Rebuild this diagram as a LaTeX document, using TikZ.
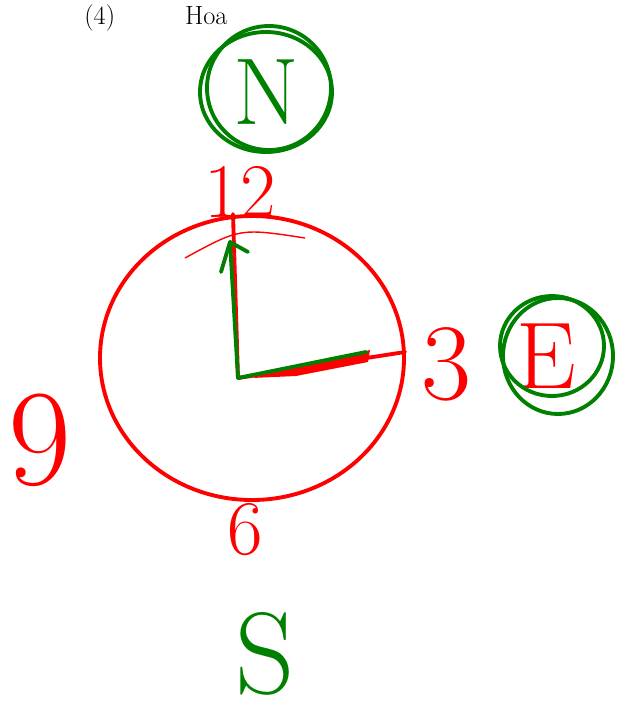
\documentclass[tikz,border=0pt]{standalone}
\usepackage{tikz}
\usetikzlibrary{arrows.meta,calc}
\definecolor{penred}{RGB}{255,0,0}
\definecolor{pengreen}{RGB}{0,128,0}

\begin{document}
\begin{tikzpicture}[
    x=0.02cm, y=-0.02cm,
    redpen/.style={draw=penred, line width=2.2pt, line cap=round, line join=round},
    greenpen/.style={draw=pengreen, line width=2.2pt, line cap=round, line join=round},
    rednum/.style={text=penred, inner sep=0pt},
    greenlbl/.style={text=pengreen, inner sep=0pt}
]
\useasboundingbox (0,0) rectangle (626,714);

% heading
\node[anchor=base west, inner sep=0pt, font=\fontsize{15}{18}\selectfont] (title) at (84,24) {(4)\hspace{1.4cm}Hoa};

% dial
\coordinate (dial) at (252,358);
\draw[redpen] (dial) ellipse [x radius=152, y radius=142];
\draw[penred, line width=0.8pt] (185,258) .. controls (240,228) .. (305,238);

% hour numbers
\node[rednum, font=\fontsize{44}{44}\selectfont] (twelve) at (240,192) {12};
\node[rednum, font=\fontsize{62}{62}\selectfont] (three) at (446,364) {3};
\node[rednum, font=\fontsize{44}{44}\selectfont] (six) at (245,530) {6};
\node[rednum, font=\fontsize{78}{78}\selectfont] (nine) at (40,440) {9};

% directions
\node[greenlbl, font=\fontsize{54}{54}\selectfont] (north) at (266,92) {N};
\draw[greenpen] (north) ellipse [x radius=66, y radius=60];
\draw[greenpen] ($(north)+(3,-4)$) ellipse [x radius=62, y radius=62];
\node[rednum, font=\fontsize{54}{54}\selectfont] (east) at (546,356) {E};
\draw[greenpen] ($(east)+(12,0)$) ellipse [x radius=55, y radius=58];
\draw[greenpen] ($(east)+(6,-10)$) ellipse [x radius=52, y radius=50];
\node[greenlbl, font=\fontsize{66}{66}\selectfont] (south) at (265,654) {S};

% hands
\coordinate (ctr) at (238,378);
\coordinate (tipN) at (233,214);
\coordinate (tipE) at (405,352);
\coordinate (tipNg) at (230,242);
\coordinate (tipEg) at (366,352);
\draw[redpen] (ctr) -- (tipN);
\draw[redpen] (ctr) -- (tipE);
\fill[penred] (252,378) -- (370,350) -- (368,362) -- (296,376) -- cycle;
\draw[greenpen] (ctr) -- (tipNg);
\draw[greenpen] (tipNg) -- (221,272);
\draw[greenpen] (tipNg) -- (248,252);
\draw[greenpen] (ctr) -- (tipEg);
\end{tikzpicture}
\end{document}
